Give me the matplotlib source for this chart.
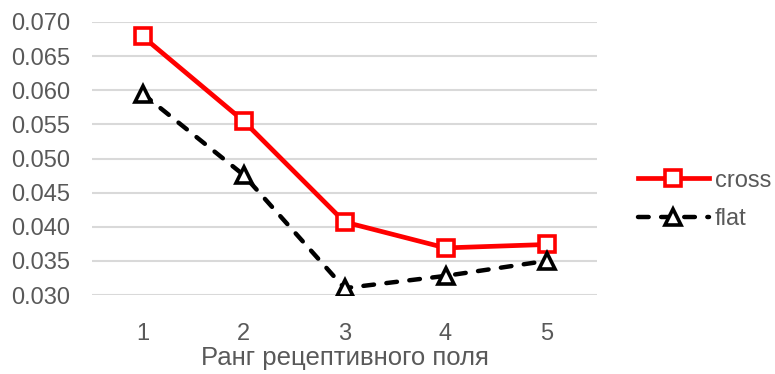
import matplotlib
matplotlib.use("Agg")
import matplotlib.pyplot as plt

categories = [1, 2, 3, 4, 5]
cross = [0.0679, 0.0555, 0.0407, 0.0369, 0.0374]
flat = [0.0595, 0.0476, 0.0310, 0.0328, 0.0350]
yticks = [0.030, 0.035, 0.040, 0.045, 0.050, 0.055, 0.060, 0.065, 0.070]
xlabel = "Ранг рецептивного поля"

plt.rcParams['font.family'] = ['Liberation Sans', 'DejaVu Sans']
gray = '#595959'

fig = plt.figure(figsize=(7.75, 3.74), dpi=100)
ax = fig.add_axes([92/775, 1-295/374, (597-92)/775, (295-22)/374])

ax.plot(categories, cross, color='#ff0000', lw=3.4, marker='s', markersize=12,
        markerfacecolor='white', markeredgecolor='#ff0000', markeredgewidth=2.6,
        label='cross', zorder=3)
ax.plot(categories, flat, color='black', lw=3.2, ls=(0, (2.4, 2.8)), marker='^', markersize=12,
        markerfacecolor='white', markeredgecolor='black', markeredgewidth=2.6,
        label='flat', zorder=3, dash_capstyle='round')

ax.set_xlim(0.5, 5.5)
ax.set_ylim(0.030, 0.070)
ax.set_yticks(yticks)
ax.set_yticklabels([f"{v:.3f}" for v in yticks])
ax.set_xticks(categories)
ax.set_xticklabels([str(c) for c in categories])
ax.grid(axis='y', color='#d9d9d9', lw=1.5, zorder=0)
ax.set_axisbelow(True)
for s in ax.spines.values():
    s.set_visible(False)
ax.tick_params(axis='both', length=0, labelsize=17, colors=gray)
ax.tick_params(axis='y', pad=16)
ax.tick_params(axis='x', pad=20)
ax.set_xlabel(xlabel, fontsize=18.5, color=gray, labelpad=1)

leg = ax.legend(loc='center left', bbox_to_anchor=(1.081, 0.348), frameon=False,
                fontsize=17, labelcolor=gray, handlelength=3.0, handletextpad=0.25,
                labelspacing=0.7, borderaxespad=0, borderpad=0)

fig.savefig('out.png', dpi=100)
